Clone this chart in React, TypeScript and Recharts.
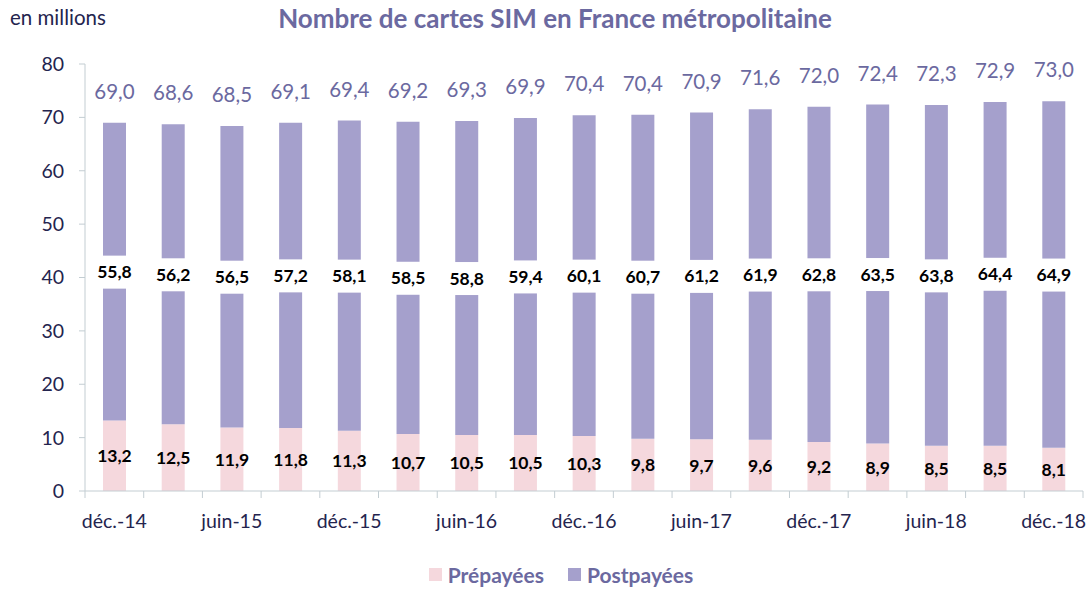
import React from "react";
import { BarChart, Bar, XAxis, YAxis, LabelList } from "recharts";

const categories = [
  "déc.-14", "mars-15", "juin-15", "sept.-15", "déc.-15", "mars-16", "juin-16", "sept.-16",
  "déc.-16", "mars-17", "juin-17", "sept.-17", "déc.-17", "mars-18", "juin-18", "sept.-18", "déc.-18",
];
const prepayees = [13.2, 12.5, 11.9, 11.8, 11.3, 10.7, 10.5, 10.5, 10.3, 9.8, 9.7, 9.6, 9.2, 8.9, 8.5, 8.5, 8.1];
const postpayees = [55.8, 56.2, 56.5, 57.2, 58.1, 58.5, 58.8, 59.4, 60.1, 60.7, 61.2, 61.9, 62.8, 63.5, 63.8, 64.4, 64.9];
const totals = [69.0, 68.6, 68.5, 69.1, 69.4, 69.2, 69.3, 69.9, 70.4, 70.4, 70.9, 71.6, 72.0, 72.4, 72.3, 72.9, 73.0];
const yTicks = [0, 10, 20, 30, 40, 50, 60, 70, 80];

const data = categories.map((c, i) => ({
  cat: c,
  pre: prepayees[i],
  post: postpayees[i],
  total: totals[i],
}));

const W = 1092;
const H = 590;
const XH = 30;
const M = { top: 64, right: 9, bottom: 99 - XH, left: 0 };
const YW = 85;
const FONT = "Lato, 'Open Sans', sans-serif";
const PINK = "#F5D8DD";
const PURPLE = "#A5A0CC";
const AXIS = "#C3CDD2";
const NAVY = "#24244E";
const TITLE = "#6B69A0";

const fmt = (v: number) => v.toFixed(1).replace(".", ",");
const band = (W - M.right - M.left - YW) / categories.length;

const XTick = (props: any) => {
  const { x, y, payload, index } = props;
  const bx = x - band / 2;
  return (
    <g>
      <line x1={bx} y1={y} x2={bx} y2={y + 7} stroke={AXIS} strokeWidth={1} />
      {index === categories.length - 1 && (
        <line x1={x + band / 2} y1={y} x2={x + band / 2} y2={y + 7} stroke={AXIS} strokeWidth={1} />
      )}
      {index % 2 === 0 && (
        <text x={x} y={y + 37} textAnchor="middle" fill={NAVY} fontSize={19.5} fontFamily={FONT}>
          {payload.value}
        </text>
      )}
    </g>
  );
};

const PreLabel = (props: any) => {
  const { x, y, width, height, value } = props;
  return (
    <text
      x={x + width / 2}
      y={y + height / 2}
      textAnchor="middle"
      dominantBaseline="central"
      fill="#000"
      fontWeight="bold"
      fontSize={17.5}
      fontFamily={FONT}
    >
      {fmt(value)}
    </text>
  );
};

const PostLabel = (props: any) => {
  const { x, y, width, height, value } = props;
  const cx = x + width / 2;
  const cy = y + height / 2;
  return (
    <g>
      <rect x={x - 2} y={cy - 16} width={width + 4} height={33} fill="#fff" />
      <text
        x={cx}
        y={cy}
        textAnchor="middle"
        dominantBaseline="central"
        fill="#000"
        fontWeight="bold"
        fontSize={17.5}
        fontFamily={FONT}
      >
        {fmt(value)}
      </text>
    </g>
  );
};

const TotalLabel = (props: any) => {
  const { x, y, width, index } = props;
  return (
    <text
      x={x + width / 2}
      y={y - 32}
      textAnchor="middle"
      dominantBaseline="central"
      fill={TITLE}
      fontSize={20.5}
      fontFamily={FONT}
    >
      {fmt(totals[index])}
    </text>
  );
};

export default function App() {
  return (
    <div style={{ position: "absolute", left: 0, top: 0, width: W, height: H, background: "#fff" }}>
      <div
        style={{
          position: "absolute",
          left: 10,
          top: 5,
          fontFamily: FONT,
          fontSize: 20.5,
          color: NAVY,
          whiteSpace: "nowrap",
        }}
      >
        en millions
      </div>
      <div
        style={{
          position: "absolute",
          left: 0,
          width: 1110,
          top: 2,
          textAlign: "center",
          fontFamily: FONT,
          fontWeight: "bold",
          fontSize: 26,
          color: TITLE,
          whiteSpace: "nowrap",
        }}
      >
        Nombre de cartes SIM en France métropolitaine
      </div>
      <BarChart width={W} height={H} data={data} margin={M} barSize={23}>
        <XAxis
          dataKey="cat"
          height={XH}
          interval={0}
          tick={<XTick />}
          tickLine={false}
          tickSize={0}
          tickMargin={0}
          axisLine={{ stroke: AXIS }}
        />
        <YAxis
          width={YW}
          domain={[0, 80]}
          ticks={yTicks}
          interval={0}
          tickSize={6}
          tickMargin={15}
          axisLine={{ stroke: AXIS }}
          tickLine={{ stroke: AXIS }}
          tick={{ fill: NAVY, fontSize: 19.5, fontFamily: FONT }}
        />
        <Bar dataKey="pre" stackId="a" fill={PINK} isAnimationActive={false}>
          <LabelList dataKey="pre" content={<PreLabel />} />
        </Bar>
        <Bar dataKey="post" stackId="a" fill={PURPLE} isAnimationActive={false}>
          <LabelList dataKey="post" content={<PostLabel />} />
          <LabelList dataKey="total" content={<TotalLabel />} />
        </Bar>
      </BarChart>
      <div
        style={{
          position: "absolute",
          left: 0,
          top: 562,
          width: W,
          display: "flex",
          justifyContent: "center",
          alignItems: "center",
          fontFamily: FONT,
          fontWeight: "bold",
          fontSize: 21,
          color: TITLE,
          paddingLeft: 30,
          boxSizing: "border-box",
        }}
      >
        <span style={{ display: "inline-block", width: 13, height: 13, background: PINK, marginRight: 6 }} />
        <span style={{ marginRight: 24 }}>Prépayées</span>
        <span style={{ display: "inline-block", width: 13, height: 13, background: PURPLE, marginRight: 6 }} />
        <span>Postpayées</span>
      </div>
    </div>
  );
}
